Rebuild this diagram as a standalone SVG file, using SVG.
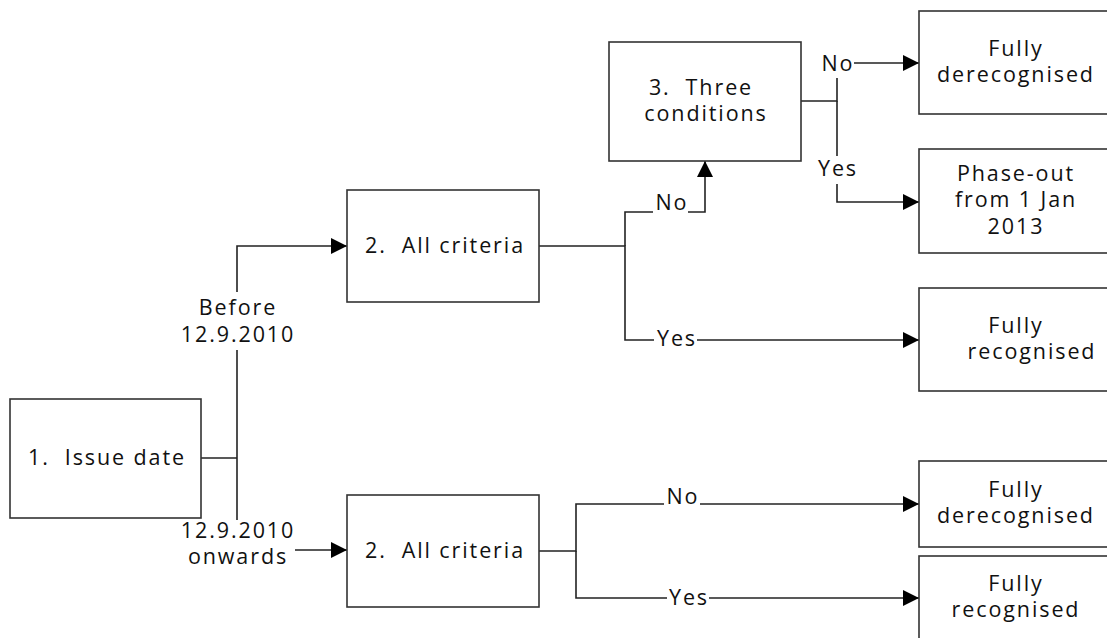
<svg xmlns="http://www.w3.org/2000/svg" width="1107" height="638" viewBox="0 0 1107 638">
<style>
.box{fill:#fff;stroke:#333;stroke-width:1.6}
.t{font-family:"Open Sans","Noto Sans",sans-serif;font-size:21.5px;letter-spacing:1.9px;fill:#111;text-anchor:middle;white-space:pre}
.c{fill:none;stroke:#222;stroke-width:1.6}
</style>
<defs>
<marker id="arr" viewBox="0 0 10 10" refX="10" refY="5" markerWidth="20" markerHeight="16" markerUnits="userSpaceOnUse" orient="auto">
<path d="M0,0 L10,5 L0,10 z" fill="#000"/>
</marker>
</defs>
<rect width="1107" height="638" fill="#fff"/>
<g id="connectors">
<path class="c" d="M201,458 H237"/>
<path class="c" d="M237,292 V246 H347" marker-end="url(#arr)"/>
<path class="c" d="M237,350 V520"/>
<path class="c" d="M295,550 H347" marker-end="url(#arr)"/>
<path class="c" d="M539,246 H625 V340 H654"/>
<path class="c" d="M697,340 H919" marker-end="url(#arr)"/>
<path class="c" d="M625,246 V212 H653"/>
<path class="c" d="M688,212 H705 V161" marker-end="url(#arr)"/>
<path class="c" d="M801,101 H837 V78"/>
<path class="c" d="M837,101 V156"/>
<path class="c" d="M837,184 V202 H919" marker-end="url(#arr)"/>
<path class="c" d="M854,63 H919" marker-end="url(#arr)"/>
<path class="c" d="M539,551 H576 V504 H664"/>
<path class="c" d="M700,504 H919" marker-end="url(#arr)"/>
<path class="c" d="M576,551 V598 H667"/>
<path class="c" d="M709,598 H919" marker-end="url(#arr)"/>
<text class="t" x="238" y="315">Before<tspan x="238" dy="27">12.9.2010</tspan></text>
<text class="t" x="238" y="538">12.9.2010<tspan x="238" dy="26">onwards</tspan></text>
<text class="t" x="672" y="210">No</text>
<text class="t" x="677" y="346">Yes</text>
<text class="t" x="838" y="71">No</text>
<text class="t" x="838" y="176">Yes</text>
<text class="t" x="683" y="504">No</text>
<text class="t" x="689" y="605">Yes</text>
</g>
<g id="n1"><rect class="box" x="10" y="399" width="191" height="119"/><text class="t" x="107" y="465">1.  Issue date</text></g>
<g id="n2a"><rect class="box" x="347" y="190" width="192" height="112"/><text class="t" x="445" y="253">2.  All criteria</text></g>
<g id="n2b"><rect class="box" x="347" y="495" width="192" height="112"/><text class="t" x="445" y="558">2.  All criteria</text></g>
<g id="n3"><rect class="box" x="609" y="42" width="192" height="119"/><text class="t" x="701" y="95">3.  Three<tspan x="706" dy="26">conditions</tspan></text></g>
<g id="r1"><rect class="box" x="919" y="11" width="200" height="103"/><text class="t" x="1016" y="56">Fully<tspan x="1016" dy="26">derecognised</tspan></text></g>
<g id="r2"><rect class="box" x="919" y="149" width="200" height="104"/><text class="t" x="1016" y="181">Phase-out<tspan x="1016" dy="26">from 1 Jan</tspan><tspan x="1016" dy="27">2013</tspan></text></g>
<g id="r3"><rect class="box" x="919" y="288" width="200" height="103"/><text class="t" x="1016" y="333">Fully<tspan x="1032" dy="26">recognised</tspan></text></g>
<g id="r4"><rect class="box" x="919" y="461" width="200" height="86"/><text class="t" x="1016" y="497">Fully<tspan x="1016" dy="26">derecognised</tspan></text></g>
<g id="r5"><rect class="box" x="919" y="556" width="200" height="100"/><text class="t" x="1016" y="591">Fully<tspan x="1016" dy="26">recognised</tspan></text></g>
</svg>
